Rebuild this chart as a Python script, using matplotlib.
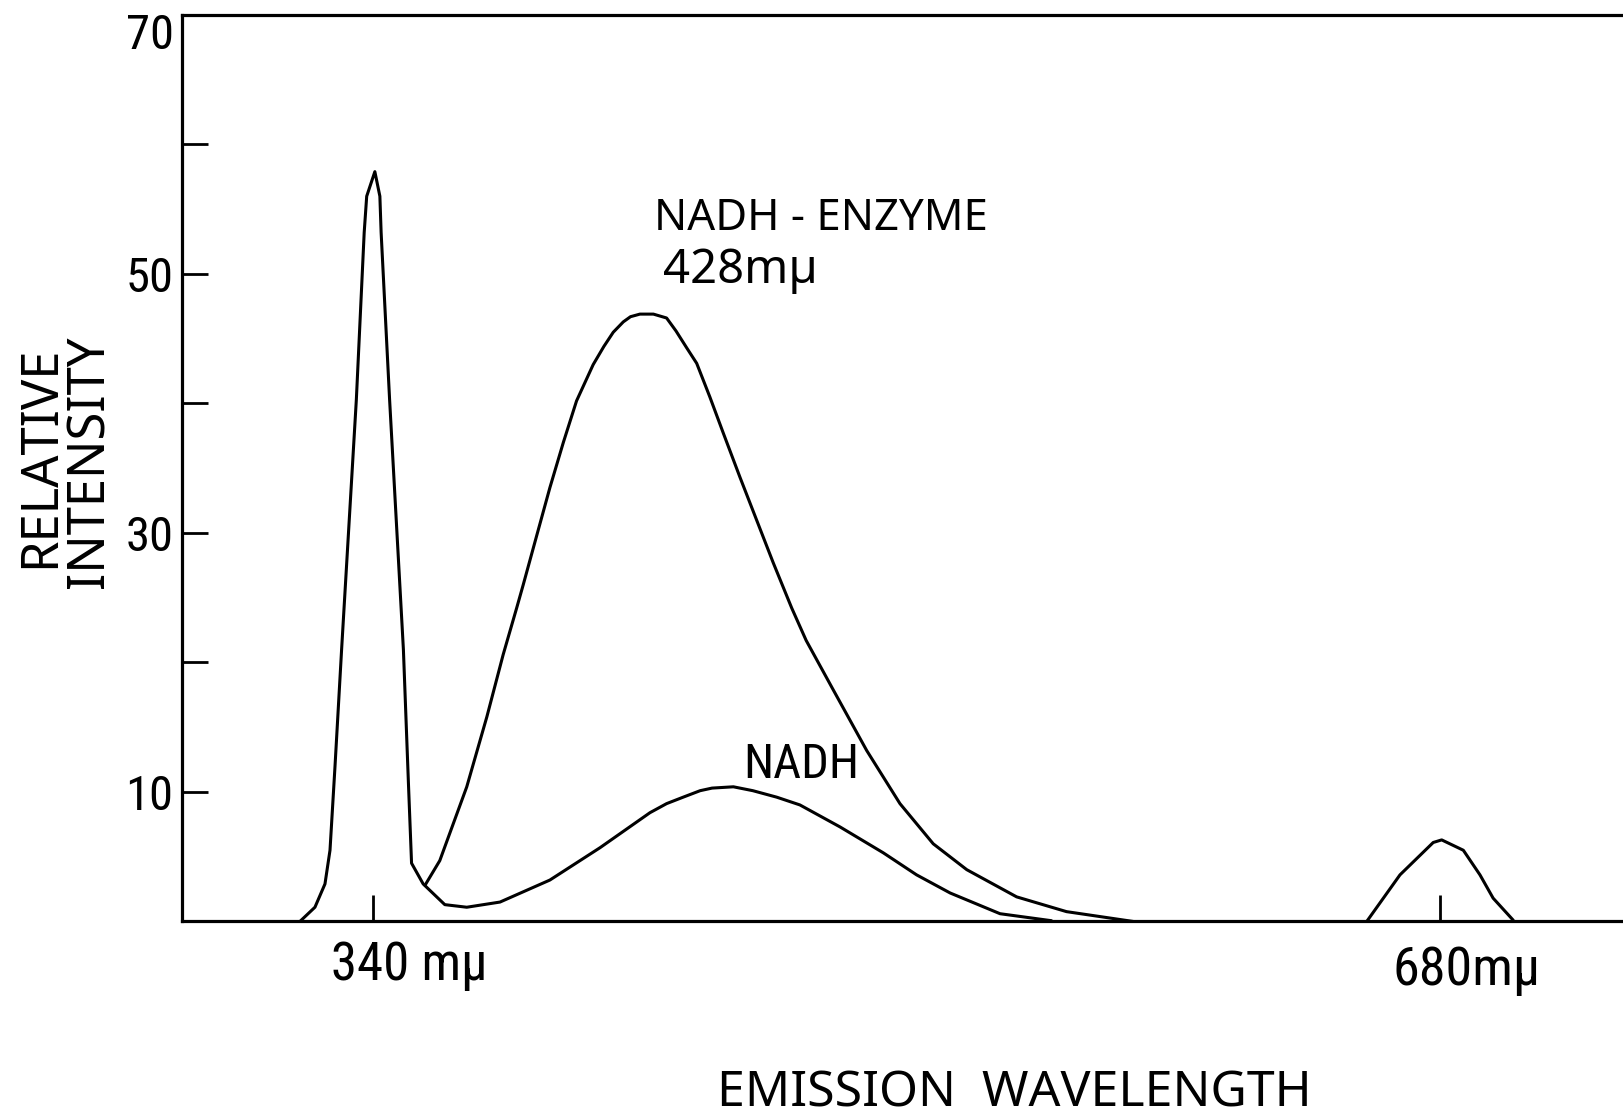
import matplotlib
matplotlib.use('Agg')
import matplotlib.pyplot as plt
from matplotlib import font_manager

# emission spectra, wavelength in m-mu, relative intensity
# excitation scatter peak at 340 running into the free NADH band
wl_nadh = [316.6, 321.4, 324.6, 326.2, 327.8, 329.9, 334.6, 337.1, 337.9, 340.5,
           342.1, 342.5, 345.2, 349.6, 351.2, 352.2, 355.9, 362.8, 369.8, 380.4,
           396.3, 412.3, 428.2, 433.5, 438.8, 444.2, 448.0, 454.8, 461.0, 468.6,
           476.0, 488.8, 502.6, 513.2, 523.9, 539.8, 556.2]
int_nadh = [0.0, 1.1, 2.9, 5.5, 12.0, 21.0, 40.3, 53.2, 56.0, 57.9,
            56.0, 53.2, 40.3, 21.0, 10.7, 4.5, 2.9, 1.3, 1.1, 1.5,
            3.2, 5.7, 8.4, 9.1, 9.6, 10.1, 10.3, 10.4, 10.1, 9.6,
            9.0, 7.3, 5.3, 3.6, 2.2, 0.6, 0.06]

# NADH bound to enzyme, max near 428
wl_enz = [356.5, 361.2, 369.8, 376.2, 381.4, 385.7, 387.8, 392.1, 396.3, 400.6,
          404.8, 410.1, 413.5, 416.5, 419.7, 422.0, 425.0, 429.3, 433.5, 436.5,
          439.9, 443.1, 447.3, 451.6, 456.9, 462.2, 467.5, 473.4, 478.0, 486.6,
          497.3, 507.9, 518.5, 529.2, 545.1, 561.0, 582.3]
int_enz = [2.8, 4.7, 10.4, 15.8, 20.6, 24.2, 26.0, 29.8, 33.5, 37.0,
           40.2, 43.0, 44.4, 45.5, 46.3, 46.7, 46.9, 46.9, 46.6, 45.6,
           44.3, 43.1, 40.5, 37.7, 34.3, 31.0, 27.7, 24.2, 21.7, 17.9,
           13.2, 9.1, 6.0, 4.0, 1.9, 0.76, 0.0]

# second order peak at 680
wl_2nd = [656.7, 667.3, 677.9, 680.6, 687.5, 692.8, 697.0, 703.4]
int_2nd = [0.0, 3.6, 6.1, 6.3, 5.5, 3.6, 1.8, 0.1]

y_ticks = [10, 20, 30, 40, 50, 60, 70]
y_ticklabels = ['10', '', '30', '', '50', '', '']
x_ticks = [340, 680]


def pick(cands):
    names = set(f.name for f in font_manager.fontManager.ttflist)
    for c in cands:
        if c in names:
            return c
    return None


narrow = pick(['Noto Sans Condensed', 'Roboto Condensed', 'Liberation Sans Narrow',
               'DejaVu Sans Condensed', 'Noto Sans SemiCondensed', 'Roboto'])
wide = pick(['Noto Sans', 'DejaVu Sans'])
plt.rcParams['font.family'] = [wide, 'DejaVu Sans']
nfam = [narrow, 'DejaVu Sans'] if narrow else ['DejaVu Sans']
wfam = [wide, 'DejaVu Sans']

fig = plt.figure(figsize=(16.23, 11.16), dpi=100)
ax = fig.add_axes([0.1121, 0.1743, 0.8879, 0.8123])

lw = 2.2
for x, y in [(wl_nadh, int_nadh), (wl_enz, int_enz), (wl_2nd, int_2nd)]:
    ax.plot(x, y, color='black', linewidth=lw, solid_joinstyle='round',
            solid_capstyle='round')

ax.set_xlim(279, 738.4)
ax.set_ylim(0, 70)

for s in ['left', 'top', 'bottom']:
    ax.spines[s].set_linewidth(2.3)
ax.spines['right'].set_visible(False)

ax.set_yticks(y_ticks)
ax.set_yticklabels(y_ticklabels, family=nfam)
ax.set_xticks(x_ticks)
ax.set_xticklabels([])
ax.tick_params(axis='y', direction='in', length=19, width=2.0, pad=6, labelsize=35)
ax.tick_params(axis='x', direction='in', length=19, width=2.0)
# top label sits just under the frame line
ax.text(-0.0055, 68.4, '70', transform=ax.get_yaxis_transform(), fontsize=35,
        family=nfam, ha='right', va='center')

ax.text(326.5, -4.5, '340 mµ', fontsize=38, family=nfam, ha='left', va='baseline')
ax.text(665.0, -4.9, '680mµ', fontsize=39, family=nfam, ha='left', va='baseline')
ax.text(429.5, 53.4, 'NADH - ENZYME', fontsize=31.5, family=wfam, ha='left', va='baseline')
ax.text(432.5, 49.3, '428mµ', fontsize=34, family=wfam, ha='left', va='baseline')
ax.text(457.8, 11.1, 'NADH', fontsize=35, family=nfam, ha='left', va='baseline')
ax.text(449.5, -14.3, 'EMISSION  WAVELENGTH', fontsize=36, family=wfam,
        ha='left', va='baseline')

fig.text(0.0248, 0.5905, 'RELATIVE', rotation=90, fontsize=36.5, family=wfam,
         ha='center', va='center')
fig.text(0.0552, 0.586, 'INTENSITY', rotation=90, fontsize=36.5, family=wfam,
         ha='center', va='center')

fig.savefig('out.png', dpi=100)
